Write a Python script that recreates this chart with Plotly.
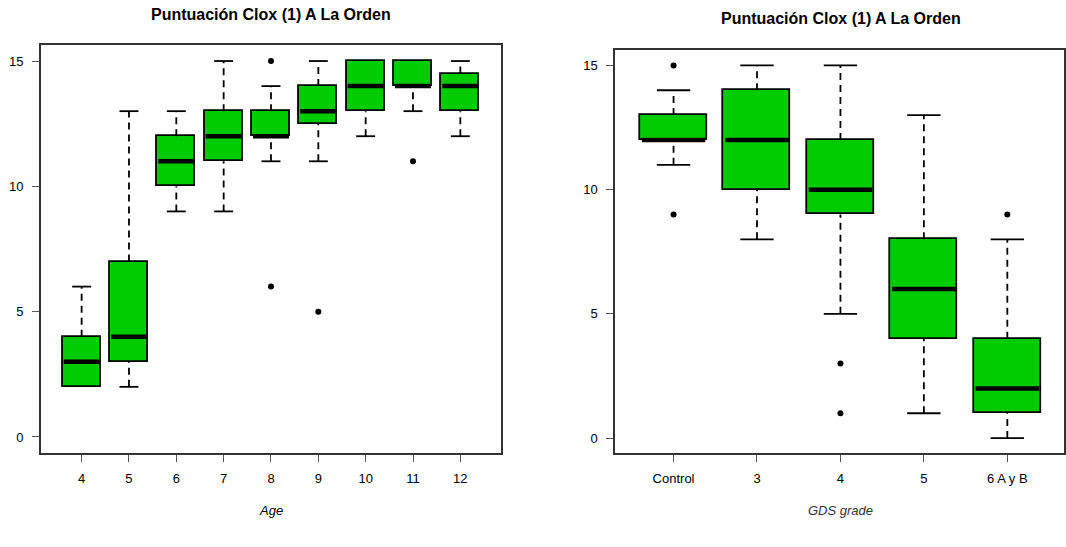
import plotly.graph_objects as go

# ---------------- data ----------------
age_labels = ["4", "5", "6", "7", "8", "9", "10", "11", "12"]
age_lower_whisker = [2, 2, 9, 9, 11, 11, 12, 13, 12]
age_q1 = [2, 3, 10, 11, 12, 12.5, 13, 14, 13]
age_median = [3, 4, 11, 12, 12, 13, 14, 14, 14]
age_q3 = [4, 7, 12, 13, 13, 14, 15, 15, 14.5]
age_upper_whisker = [6, 13, 13, 15, 14, 15, 15, 15, 15]
age_outlier_group = ["8", "8", "9", "11"]
age_outlier_value = [15, 6, 5, 11]

gds_labels = ["Control", "3", "4", "5", "6 A y B"]
gds_lower_whisker = [11, 8, 5, 1, 0]
gds_q1 = [12, 10, 9, 4, 1]
gds_median = [12, 12, 10, 6, 2]
gds_q3 = [13, 14, 12, 8, 4]
gds_upper_whisker = [14, 15, 15, 13, 8]
gds_outlier_group = ["Control", "Control", "4", "4", "6 A y B"]
gds_outlier_value = [15, 9, 3, 1, 9]

title_text = "Puntuación Clox (1) A La Orden"
y_ticks = [0, 5, 10, 15]

# ---------------- style ----------------
W, H = 1066, 547
GREEN = "#00CC00"
FONT = "Liberation Sans, Arial, sans-serif"
BOXW = 0.8
CAPW = 0.4

fig = go.Figure()


def add_panel(labels, lw, q1, med, q3, uw, og, ov, xa, ya):
    pos = list(range(1, len(labels) + 1))
    idx = {lab: p for lab, p in zip(labels, pos)}
    # boxes
    fig.add_trace(go.Bar(
        x=pos, y=[b - a for a, b in zip(q1, q3)], base=q1, width=BOXW,
        marker=dict(color=GREEN, line=dict(color="black", width=1.8)),
        xaxis=xa, yaxis=ya, showlegend=False, hoverinfo="skip"))
    # dashed whiskers
    wx, wy = [], []
    for p, a, b, c, d in zip(pos, lw, q1, q3, uw):
        if b > a:
            wx += [p, p, None]; wy += [a, b, None]
        if d > c:
            wx += [p, p, None]; wy += [c, d, None]
    fig.add_trace(go.Scatter(
        x=wx, y=wy, mode="lines", line=dict(color="black", width=1.8, dash="7px,5px"),
        xaxis=xa, yaxis=ya, showlegend=False, hoverinfo="skip"))
    # caps
    cx, cy = [], []
    for p, a, b, c, d in zip(pos, lw, q1, q3, uw):
        if b > a:
            cx += [p - CAPW / 2, p + CAPW / 2, None]; cy += [a, a, None]
        if d > c:
            cx += [p - CAPW / 2, p + CAPW / 2, None]; cy += [d, d, None]
    fig.add_trace(go.Scatter(
        x=cx, y=cy, mode="lines", line=dict(color="black", width=1.8),
        xaxis=xa, yaxis=ya, showlegend=False, hoverinfo="skip"))
    # medians
    mx, my = [], []
    for p, m in zip(pos, med):
        mx += [p - BOXW / 2 + 0.02, p + BOXW / 2 - 0.02, None]; my += [m, m, None]
    fig.add_trace(go.Scatter(
        x=mx, y=my, mode="lines", line=dict(color="black", width=4.5),
        xaxis=xa, yaxis=ya, showlegend=False, hoverinfo="skip"))
    # outliers
    fig.add_trace(go.Scatter(
        x=[idx[g] for g in og], y=ov, mode="markers",
        marker=dict(color="black", size=6, symbol="circle"),
        xaxis=xa, yaxis=ya, showlegend=False, hoverinfo="skip"))
    return pos


pos_age = add_panel(age_labels, age_lower_whisker, age_q1, age_median, age_q3,
                    age_upper_whisker, age_outlier_group, age_outlier_value, "x", "y")
pos_gds = add_panel(gds_labels, gds_lower_whisker, gds_q1, gds_median, gds_q3,
                    gds_upper_whisker, gds_outlier_group, gds_outlier_value, "x2", "y2")

axis_common = dict(showgrid=False, zeroline=False, showline=True, mirror=True,
                   linecolor="#333333", linewidth=1.5, ticks="outside", ticklen=7,
                   tickcolor="#555555", tickwidth=1.2,
                   tickfont=dict(family=FONT, size=13, color="#000000"))

L1, R1 = 41, 502
L2 = 616.3
x2_right = 0.3 + (W - L2) / 83.6

fig.update_layout(
    width=W, height=H, margin=dict(l=0, r=0, t=0, b=0),
    paper_bgcolor="white", plot_bgcolor="white", bargap=0, barmode="overlay",
    xaxis=dict(domain=[L1 / W, R1 / W], range=[0.14, len(age_labels) + 0.86],
               tickvals=pos_age, ticktext=age_labels, ticklabelstandoff=6, anchor="y",
               **axis_common),
    yaxis=dict(domain=[(H - 453) / H, (H - 45) / H], range=[-0.64, 15.64],
               tickvals=y_ticks, ticklabelstandoff=6, anchor="x", **axis_common),
    xaxis2=dict(domain=[L2 / W, 1.0], range=[0.3, x2_right],
                tickvals=pos_gds, ticktext=gds_labels, ticklabelstandoff=6, anchor="y2",
                **axis_common),
    yaxis2=dict(domain=[(H - 453) / H, (H - 50) / H], range=[-0.6, 15.62],
                tickvals=y_ticks, ticklabelstandoff=6, anchor="x2", **axis_common),
)

ann = [
    dict(text="<b>" + title_text + "</b>", x=(L1 + R1) / 2 / W, y=1 - 15 / H,
         font=dict(family=FONT, size=16, color="#000000")),
    dict(text="<b>" + title_text + "</b>", x=(L2 + 1068) / 2 / W, y=1 - 19 / H,
         font=dict(family=FONT, size=16, color="#000000")),
    dict(text="<i>Age</i>", x=(L1 + R1) / 2 / W, y=1 - 510 / H,
         font=dict(family=FONT, size=13, color="#000000")),
    dict(text="<i>GDS grade</i>", x=(L2 + 1068) / 2 / W, y=1 - 510 / H,
         font=dict(family=FONT, size=13, color="#333333")),
]
for a in ann:
    fig.add_annotation(xref="paper", yref="paper", xanchor="center", yanchor="middle",
                       showarrow=False, **a)

fig.write_html("out.html")
